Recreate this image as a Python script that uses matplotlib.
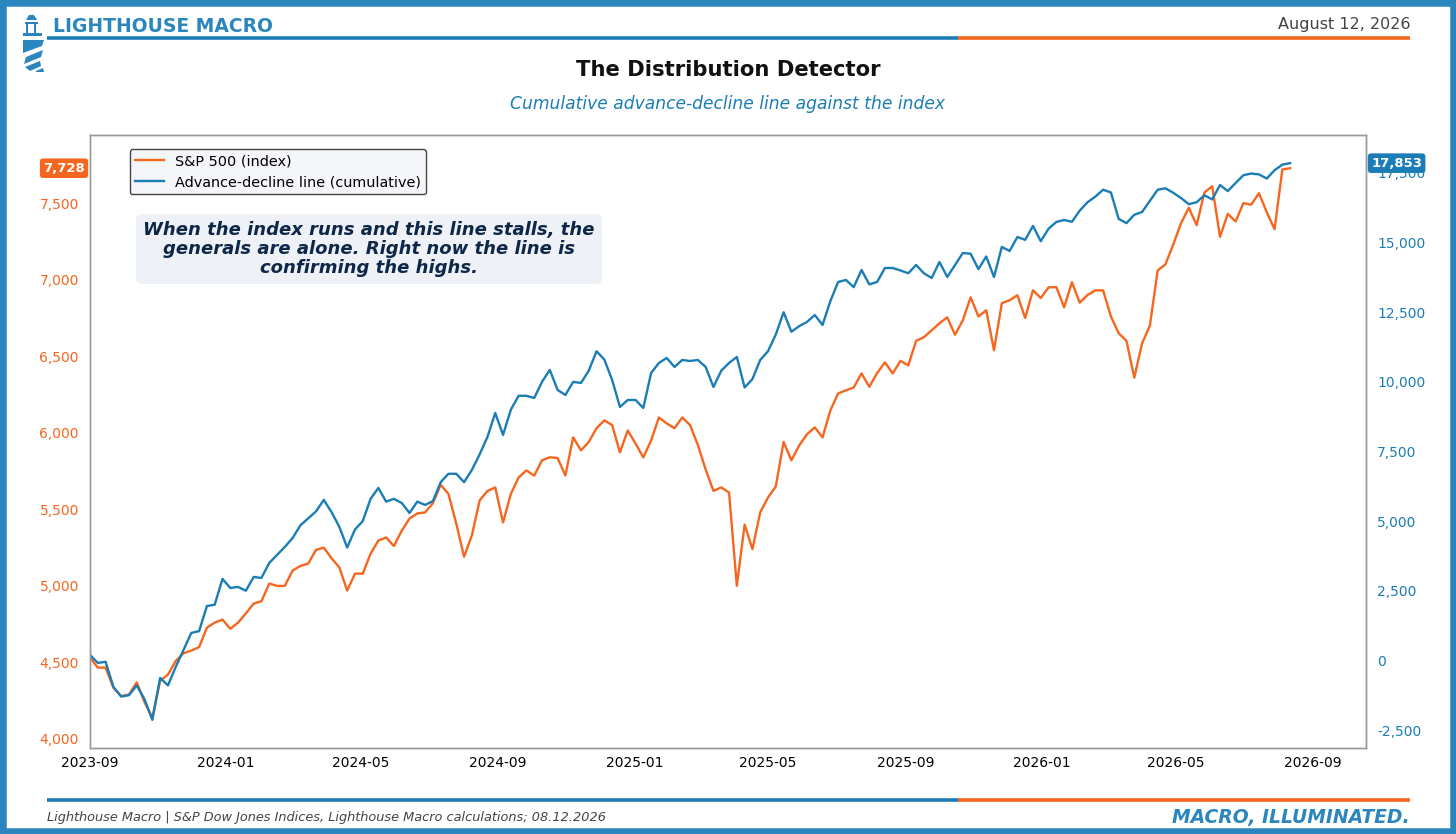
import numpy as np
import pandas as pd
import matplotlib
matplotlib.use("Agg")
import matplotlib.pyplot as plt
import matplotlib.dates as mdates
import matplotlib.ticker as mticker
from matplotlib.lines import Line2D
from matplotlib.patches import Rectangle, Polygon

BLUE = "#1b7db6"
ORANGE = "#f5661f"
NAVY = "#0e2748"

# weekly readings, 2023-09-01 .. 2026-08-12
start_date = "2023-09-01"
end_date = "2026-08-12"

spx = [4531, 4466, 4466, 4335, 4280, 4290, 4370, 4240, 4140, 4380,
       4420, 4510, 4560, 4577, 4600, 4727, 4760, 4780, 4720, 4760,
       4820, 4884, 4900, 5015, 5000, 5000, 5100, 5130, 5146, 5235,
       5250, 5180, 5120, 4969, 5080, 5080, 5210, 5296, 5316, 5260,
       5360, 5440, 5473, 5480, 5540, 5660, 5600, 5407, 5190, 5330,
       5558, 5620, 5643, 5414, 5600, 5708, 5754, 5720, 5820, 5840,
       5835, 5721, 5970, 5885, 5940, 6030, 6081, 6050, 5872, 6015,
       5930, 5839, 5950, 6100, 6061, 6030, 6100, 6050, 5920, 5760,
       5620, 5643, 5610, 5000, 5400, 5240, 5480, 5577, 5650, 5940,
       5820, 5917, 5990, 6035, 5970, 6146, 6257, 6277, 6296, 6388,
       6300, 6390, 6460, 6388, 6470, 6440, 6600, 6624, 6669, 6715,
       6754, 6640, 6735, 6885, 6760, 6800, 6539, 6846, 6866, 6898,
       6750, 6931, 6880, 6950, 6951, 6820, 6983, 6850, 6900, 6930,
       6930, 6760, 6650, 6600, 6360, 6584, 6700, 7060, 7100, 7230,
       7369, 7470, 7356, 7570, 7610, 7280, 7430, 7380, 7500, 7490,
       7565, 7440, 7330, 7720, 7728]

adline = [196, -91, -50, -953, -1300, -1250, -900, -1400, -2137, -630,
          -900, -235, 376, 986, 1050, 1950, 2000, 2925, 2600, 2637,
          2500, 2996, 2960, 3499, 3786, 4073, 4396, 4850, 5100, 5350,
          5761, 5320, 4791, 4050, 4700, 5000, 5800, 6191, 5700, 5800,
          5650, 5294, 5700, 5581, 5720, 6400, 6700, 6700, 6400, 6838,
          7400, 8022, 8884, 8094, 9000, 9500, 9500, 9422, 10000, 10428,
          9710, 9530, 10000, 9961, 10400, 11100, 10800, 10069, 9099, 9350,
          9350, 9063, 10320, 10679, 10858, 10535, 10787, 10750, 10787, 10535,
          9817, 10400, 10679, 10894, 9800, 10100, 10787, 11100, 11700, 12500,
          11800, 12000, 12151, 12400, 12043, 12900, 13587, 13659, 13400, 14018,
          13500, 13587, 14089, 14089, 14000, 13900, 14197, 13900, 13730, 14305,
          13766, 14200, 14628, 14600, 14050, 14500, 13766, 14843, 14700, 15202,
          15100, 15600, 15050, 15500, 15741, 15813, 15750, 16150, 16450, 16650,
          16900, 16800, 15850, 15700, 16000, 16100, 16500, 16900, 16950, 16790,
          16600, 16380, 16450, 16700, 16550, 17069, 16850, 17141, 17420, 17480,
          17450, 17300, 17600, 17800, 17853]

spx_ticks = [4000, 4500, 5000, 5500, 6000, 6500, 7000, 7500]
ad_ticks = [-2500, 0, 2500, 5000, 7500, 10000, 12500, 15000, 17500]

dates = pd.date_range(start_date, end_date, periods=len(spx))

W, H = 1456, 834


def fx(x):
    return x / W


def fy(y):
    return 1 - y / H


fig = plt.figure(figsize=(14.56, 8.34), dpi=100)

# outer frame
fig.add_artist(Rectangle((0, 0), 1, 1, transform=fig.transFigure, fill=False,
                         edgecolor="#2a86bd", linewidth=9, clip_on=False))

# header / footer rules
for yy in (38, 800):
    fig.add_artist(Line2D([fx(47), fx(958)], [fy(yy), fy(yy)], color=BLUE, lw=2.6,
                          transform=fig.transFigure, solid_capstyle="butt"))
    fig.add_artist(Line2D([fx(958), fx(1410)], [fy(yy), fy(yy)], color=ORANGE, lw=2.6,
                          transform=fig.transFigure, solid_capstyle="butt"))

# little lighthouse mark
icon = [
    [(26, 20), (29, 15), (34, 15), (37, 20)],
    [(25, 22), (38, 22), (38, 24), (25, 24)],
    [(26, 24), (28, 24), (28, 33), (26, 33)],
    [(34, 24), (36, 24), (36, 33), (34, 33)],
    [(23, 33), (42, 33), (42, 36), (23, 36)],
    [(23, 40), (44, 40), (42, 46), (23, 53)],
    [(26, 57), (43, 50), (41, 57), (24, 64)],
    [(25, 67), (40, 61), (41, 66), (30, 71)],
    [(36, 71), (43, 68), (44, 72), (36, 72)],
]
for poly in icon:
    fig.add_artist(Polygon([(fx(a), fy(b)) for a, b in poly], closed=True,
                           transform=fig.transFigure, facecolor="#2a86bd",
                           edgecolor="none"))

fig.text(fx(53), fy(27), "LIGHTHOUSE MACRO", color="#2a86bd", fontsize=13.5,
         fontweight="bold", va="center", ha="left")
fig.text(fx(1410), fy(25), "August 12, 2026", color="#444444", fontsize=11.5,
         va="center", ha="right")
fig.text(0.5, fy(70), "The Distribution Detector", fontsize=15.2, fontweight="bold",
         ha="center", va="center", color="#111111")
fig.text(0.5, fy(104), "Cumulative advance-decline line against the index",
         fontsize=12.3, style="italic", color=BLUE, ha="center", va="center")
fig.text(fx(47), fy(818),
         "Lighthouse Macro | S&P Dow Jones Indices, Lighthouse Macro calculations; 08.12.2026",
         fontsize=9.3, style="italic", color="#444444", ha="left", va="center")
fig.text(fx(1410), fy(818), "MACRO, ILLUMINATED.", fontsize=13.5, style="italic",
         fontweight="bold", color="#2a86bd", ha="right", va="center")

ax = fig.add_axes([fx(90), 1 - 748 / H, (1366 - 90) / W, (748 - 135) / H])
ax2 = ax.twinx()

l1, = ax.plot(dates, spx, color=ORANGE, lw=1.7, label="S&P 500 (index)")
l2, = ax2.plot(dates, adline, color=BLUE, lw=1.7, label="Advance-decline line (cumulative)")

ax.set_xlim(pd.Timestamp(start_date), pd.Timestamp(start_date) + pd.Timedelta(days=1144))
ax.set_ylim(3941, 7945)
ax2.set_ylim(-3146, 18864)

ax.xaxis.set_major_locator(mdates.MonthLocator(bymonth=[1, 5, 9]))
ax.xaxis.set_major_formatter(mdates.DateFormatter("%Y-%m"))
ax.set_yticks(spx_ticks)
ax2.set_yticks(ad_ticks)
fmt = mticker.FuncFormatter(lambda v, p: f"{v:,.0f}")
ax.yaxis.set_major_formatter(fmt)
ax2.yaxis.set_major_formatter(fmt)

ax.tick_params(axis="y", colors=ORANGE, labelsize=10, length=0, pad=8)
ax2.tick_params(axis="y", colors=BLUE, labelsize=10, length=0, pad=8)
ax.tick_params(axis="x", labelsize=10, length=0, pad=6)

for a in (ax, ax2):
    for s in a.spines.values():
        s.set_color("#999999")
        s.set_linewidth(1)

leg = ax.legend(handles=[l1, l2], loc="upper left", bbox_to_anchor=(0.031, 0.977),
                borderaxespad=0, fontsize=10.4, frameon=True, facecolor="#f4f6f9",
                edgecolor="#444444", framealpha=1, borderpad=0.35, handlelength=2.0)
leg.get_frame().set_linewidth(1)
leg.set_zorder(10)

ax2.text(0.2187, 0.814,
         "When the index runs and this line stalls, the\ngenerals are alone. Right now the line is\nconfirming the highs.",
         transform=ax.transAxes, ha="center", va="center", fontsize=13,
         fontweight="bold", style="italic", color=NAVY, linespacing=1.05,
         bbox=dict(boxstyle="round,pad=0.4,rounding_size=0.3", facecolor="#eef2f7",
                   edgecolor="none"))

# last-value badges
ax.text(-0.004, spx[-1], f"{spx[-1]:,}", transform=ax.get_yaxis_transform(),
        ha="right", va="center", fontsize=9.5, fontweight="bold", color="white",
        bbox=dict(boxstyle="round,pad=0.25", facecolor=ORANGE, edgecolor="none"),
        clip_on=False)
ax2.text(1.004, adline[-1], f"{adline[-1]:,}", transform=ax2.get_yaxis_transform(),
         ha="left", va="center", fontsize=9.5, fontweight="bold", color="white",
         bbox=dict(boxstyle="round,pad=0.25", facecolor=BLUE, edgecolor="none"),
         clip_on=False, zorder=10)

fig.savefig("out.png", dpi=100)
